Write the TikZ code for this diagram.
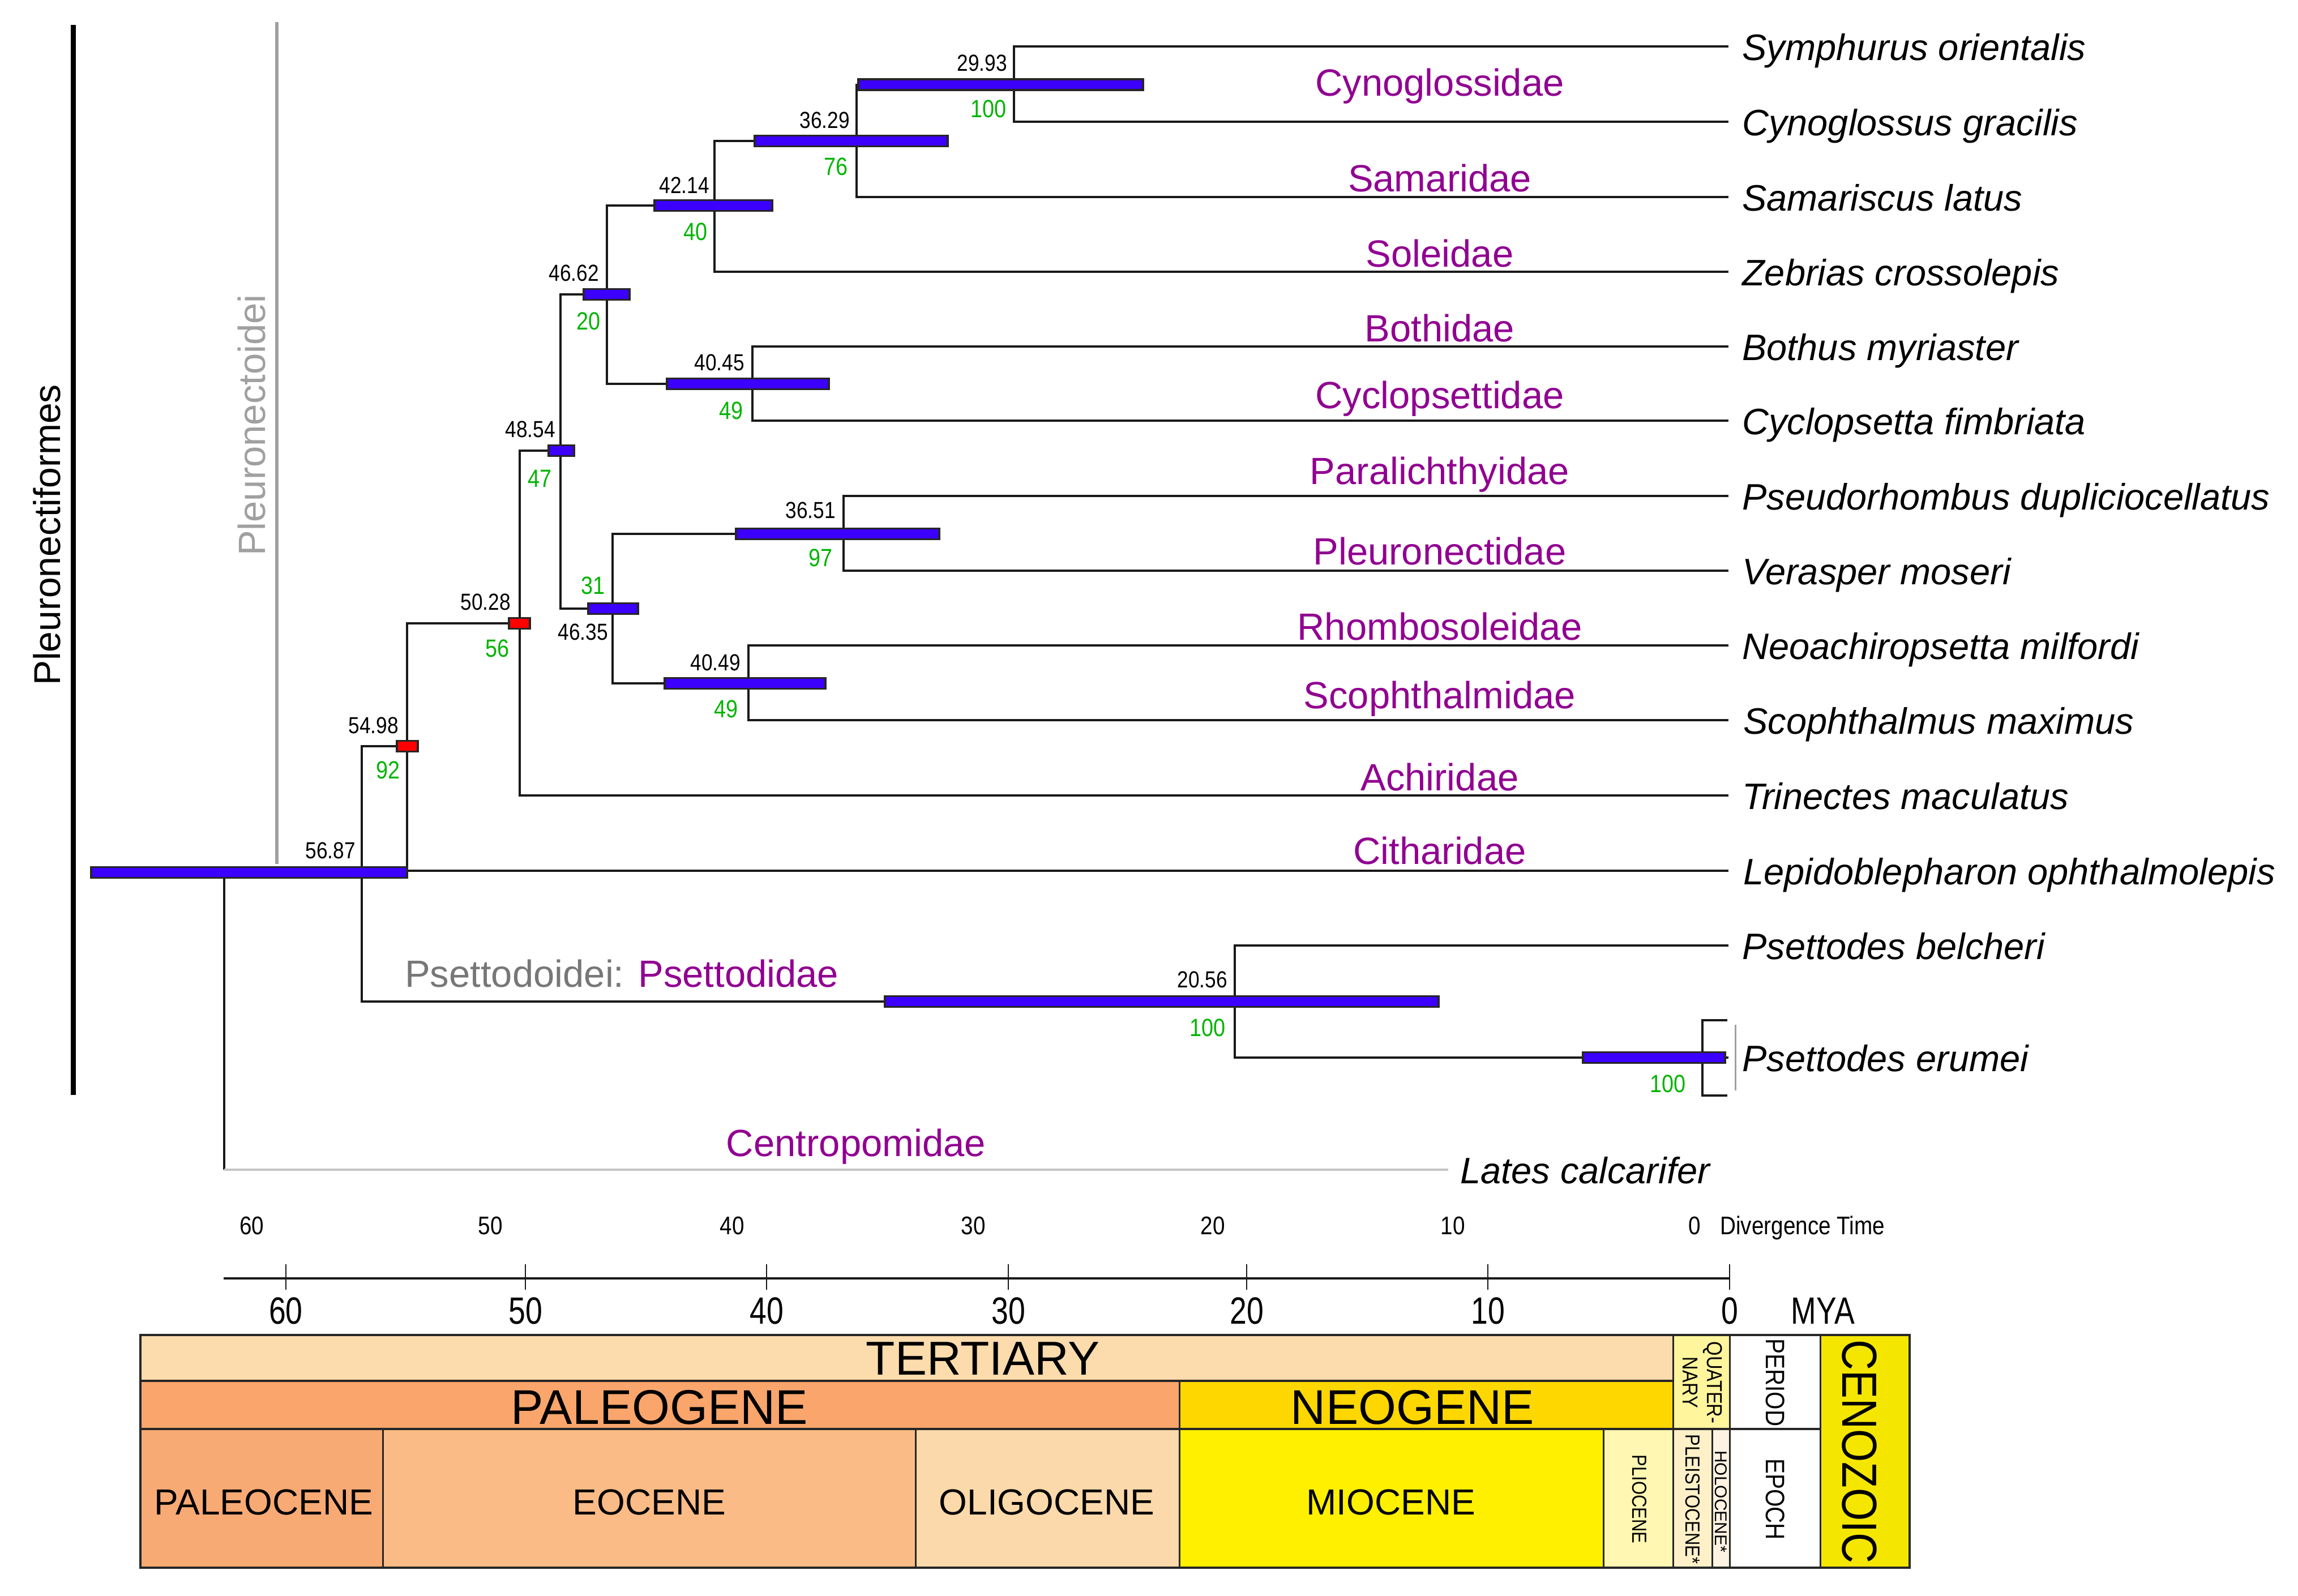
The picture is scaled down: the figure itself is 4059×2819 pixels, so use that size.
\documentclass[tikz,border=0pt]{standalone}
\usepackage{fontspec}
\setmainfont{Liberation Sans}
\newfontfamily\condA[FakeStretch=0.86]{Liberation Sans}
\newfontfamily\condB[FakeStretch=0.8]{Liberation Sans}
\newfontfamily\condC[FakeStretch=0.86]{Liberation Sans}
\newcommand\fsz[1]{\fontsize{#1}{#1}\selectfont}
\definecolor{barblue}{HTML}{3C00FF}
\definecolor{fampurple}{HTML}{910091}
\definecolor{suppgreen}{HTML}{00B400}
\definecolor{psgray}{HTML}{777777}
\definecolor{pngray}{HTML}{A0A0A0}
\definecolor{latesgray}{HTML}{C4C4C4}
\definecolor{cTert}{HTML}{FCDBAC}
\definecolor{cPaleog}{HTML}{F9A56C}
\definecolor{cPaleoc}{HTML}{F8AA74}
\definecolor{cEoc}{HTML}{FBBB86}
\definecolor{cOlig}{HTML}{FCD9AA}
\definecolor{cNeog}{HTML}{FFD700}
\definecolor{cMioc}{HTML}{FFF000}
\definecolor{cPlioc}{HTML}{FFF7B2}
\definecolor{cQuat}{HTML}{FFF59C}
\definecolor{cPleist}{HTML}{FFF0C8}
\definecolor{cHoloc}{HTML}{FEF2E2}
\definecolor{cCeno}{HTML}{F5E600}
\tikzset{
  tree/.style={line width=4pt, black!90},
  lates/.style={line width=4pt, latesgray},
  bar/.style={rectangle, draw=black!85, line width=3.5pt, fill=barblue, minimum height=19pt, inner sep=0pt},
  redbar/.style={bar, fill=red},
  agelbl/.style={anchor=base east, inner sep=0pt, font=\condA\fsz{41}},
  supp/.style={anchor=base east, inner sep=0pt, text=suppgreen, font=\condA\fsz{44}},
  fam/.style={anchor=base, inner sep=0pt, text=fampurple, font=\fsz{67}},
  sp/.style={anchor=base west, inner sep=0pt, font=\itshape\fsz{65}},
  toplbl/.style={anchor=base, inner sep=0pt, font=\condC\fsz{45}},
  botlbl/.style={anchor=base, inner sep=0pt, font=\condB\fsz{67}},
  cell/.style={draw=black!85, line width=3pt},
  bigtxt/.style={anchor=base, inner sep=0pt},
  rottxt/.style={anchor=center, inner sep=0pt, rotate=-90},
}
\begin{document}
\begin{tikzpicture}[x=1pt, y=-1pt]
\useasboundingbox (0,0) rectangle (4059,2819);
% ---------- tips ----------
\coordinate (t1) at (3053,82);
\coordinate (t2) at (3053,215);
\coordinate (t3) at (3053,348);
\coordinate (t4) at (3053,480);
\coordinate (t5) at (3053,612);
\coordinate (t6) at (3053,743);
\coordinate (t7) at (3053,876);
\coordinate (t8) at (3053,1008);
\coordinate (t9) at (3053,1140);
\coordinate (t10) at (3053,1272);
\coordinate (t11) at (3053,1405);
\coordinate (t12) at (3053,1538);
\coordinate (t13) at (3053,1670);
\coordinate (t14) at (3053,1868);
\coordinate (t15) at (2558,2066);
% ---------- internal nodes ----------
\coordinate (n2993) at (1791,149.5);
\coordinate (n3629) at (1512.5,249);
\coordinate (n4214) at (1262,363);
\coordinate (n4662) at (1072,520);
\coordinate (n4045) at (1329,678);
\coordinate (n4854) at (990,796);
\coordinate (n3651) at (1490,943);
\coordinate (n4635) at (1082,1075);
\coordinate (n4049) at (1322,1207);
\coordinate (n5028) at (918,1101);
\coordinate (n5498) at (719,1318);
\coordinate (n5687) at (638.5,1541);
\coordinate (n2056) at (2181,1769);
\coordinate (root) at (396,1541);
% ---------- group lines ----------
\coordinate (pfTop) at (129,44);
\coordinate (pfBot) at (129,1934);
\coordinate (pnTop) at (489,39);
\coordinate (pnBot) at (489,1526);
\draw[line width=9pt, black] (pfTop) -- (pfBot);
\draw[line width=6pt, pngray] (pnTop) -- (pnBot);
% ---------- branches ----------
\draw[tree] (n2993) |- (t1);
\draw[tree] (n2993) |- (t2);
\draw[tree] (n3629) |- (n2993);
\draw[tree] (n3629) |- (t3);
\draw[tree] (n4214) |- (n3629);
\draw[tree] (n4214) |- (t4);
\draw[tree] (n4662) |- (n4214);
\draw[tree] (n4662) |- (n4045);
\draw[tree] (n4045) |- (t5);
\draw[tree] (n4045) |- (t6);
\draw[tree] (n4854) |- (n4662);
\draw[tree] (n4854) |- (n4635);
\draw[tree] (n3651) |- (t7);
\draw[tree] (n3651) |- (t8);
\draw[tree] (n4635) |- (n3651);
\draw[tree] (n4635) |- (n4049);
\draw[tree] (n4049) |- (t9);
\draw[tree] (n4049) |- (t10);
\draw[tree] (n5028) |- (n4854);
\draw[tree] (n5028) |- (t11);
\draw[tree] (n5498) |- (n5028);
\draw[tree] (n5498) |- (t12);
\draw[tree] (n5687) |- (n5498);
\draw[tree] (n5687) |- (n2056);
\draw[tree] (n2056) |- (t13);
\draw[tree] (n2056) |- (t14);
\draw[tree] (root) -- (n5687);
\draw[tree] (root) -- (root |- t15);
\draw[lates] (root |- t15) -- (t15);
% erumei bracket
\coordinate (brA) at (3051,1802);
\coordinate (brB) at (3007,1802);
\coordinate (brC) at (3007,1935);
\coordinate (brD) at (3051,1935);
\draw[tree] (brA) -- (brB) -- (brC) -- (brD);
\coordinate (glA) at (3065,1810);
\coordinate (glB) at (3065,1926);
\draw[line width=3pt, pngray] (glA) -- (glB);
% ---------- bars ----------
\node[bar, minimum width=503pt] (b2993) at (1767.5,149.5) {};
\node[bar, minimum width=341pt] (b3629) at (1503.5,249) {};
\node[bar, minimum width=208pt] (b4214) at (1260,363) {};
\node[bar, minimum width=81pt] (b4662) at (1071.5,520) {};
\node[bar, minimum width=286pt] (b4045) at (1321,678) {};
\node[bar, minimum width=45pt] (b4854) at (991.5,796) {};
\node[bar, minimum width=359pt] (b3651) at (1479.5,943) {};
\node[bar, minimum width=88pt] (b4635) at (1083,1075) {};
\node[bar, minimum width=284pt] (b4049) at (1316,1207) {};
\node[redbar, minimum width=37pt] (b5028) at (917.5,1101) {};
\node[redbar, minimum width=37pt] (b5498) at (719.5,1318) {};
\node[bar, minimum width=558pt] (b5687) at (440,1541) {};
\node[bar, minimum width=978pt] (b2056) at (2052,1769) {};
\node[bar, minimum width=251pt] (bEru) at (2921.5,1868) {};
% ---------- node ages and support ----------
\node[agelbl] (a2993) at (1779,125) {29.93};
\node[supp] (s2993) at (1778,207) {100};
\node[agelbl] (a3629) at (1501,226) {36.29};
\node[supp] (s3629) at (1498,309) {76};
\node[agelbl] (a4214) at (1253,341) {42.14};
\node[supp] (s4214) at (1250,424) {40};
\node[agelbl] (a4662) at (1058,496) {46.62};
\node[supp] (s4662) at (1061,582) {20};
\node[agelbl] (a4045) at (1315,654) {40.45};
\node[supp] (s4045) at (1313,740) {49};
\node[agelbl] (a4854) at (981,772) {48.54};
\node[supp] (s4854) at (975,860) {47};
\node[agelbl] (a3651) at (1476,915) {36.51};
\node[supp] (s3651) at (1471,1000) {97};
\node[agelbl] (a5028) at (902,1077) {50.28};
\node[supp] (s5028) at (900,1160) {56};
\node[agelbl] (a4635) at (1074,1130) {46.35};
\node[supp] (s4635) at (1069,1049) {31};
\node[agelbl] (a4049) at (1308,1184) {40.49};
\node[supp] (s4049) at (1304,1267) {49};
\node[agelbl] (a5498) at (704,1295) {54.98};
\node[supp] (s5498) at (707,1375) {92};
\node[agelbl] (a5687) at (628,1516) {56.87};
\node[agelbl] (a2056) at (2168,1744) {20.56};
\node[supp] (s2056) at (2165,1830) {100};
\node[supp] (sEru) at (2978,1929) {100};
% ---------- family labels ----------
\node[fam] (f1) at (2543,169) {Cynoglossidae};
\node[fam] (f2) at (2543,338) {Samaridae};
\node[fam] (f3) at (2543,471) {Soleidae};
\node[fam] (f4) at (2543,603) {Bothidae};
\node[fam] (f5) at (2543,721) {Cyclopsettidae};
\node[fam] (f6) at (2543,855) {Paralichthyidae};
\node[fam] (f7) at (2543,997) {Pleuronectidae};
\node[fam] (f8) at (2543,1130) {Rhombosoleidae};
\node[fam] (f9) at (2543,1251) {Scophthalmidae};
\node[fam] (f10) at (2543,1396) {Achiridae};
\node[fam] (f11) at (2543,1526) {Citharidae};
\node[fam] (f12) at (1512,2042) {Centropomidae};
\node[anchor=base west, inner sep=0pt, font=\fsz{67}] (f13) at (715,1743) {\textcolor{psgray}{Psettodoidei:} \textcolor{fampurple}{Psettodidae}};
% ---------- group labels ----------
\node[anchor=base, inner sep=0pt, rotate=90, font=\fsz{66}] (gPF) at (106,945) {Pleuronectiformes};
\node[anchor=base, inner sep=0pt, rotate=90, font=\fsz{67}, text=pngray] (gPN) at (468,751) {Pleuronectoidei};
% ---------- species ----------
\node[sp] (l1) at (3077,106) {Symphurus orientalis};
\node[sp] (l2) at (3077,239) {Cynoglossus gracilis};
\node[sp] (l3) at (3077,372) {Samariscus latus};
\node[sp] (l4) at (3077,504) {Zebrias crossolepis};
\node[sp] (l5) at (3077,636) {Bothus myriaster};
\node[sp] (l6) at (3077,767) {Cyclopsetta fimbriata};
\node[sp] (l7) at (3077,900) {Pseudorhombus dupliciocellatus};
\node[sp] (l8) at (3077,1032) {Verasper moseri};
\node[sp] (l9) at (3077,1164) {Neoachiropsetta milfordi};
\node[sp] (l10) at (3079,1296) {Scophthalmus maximus};
\node[sp] (l11) at (3077,1429) {Trinectes maculatus};
\node[sp] (l12) at (3079,1562) {Lepidoblepharon ophthalmolepis};
\node[sp] (l13) at (3077,1694) {Psettodes belcheri};
\node[sp] (l14) at (3077,1892) {Psettodes erumei};
\node[sp] (l15) at (2579,2090) {Lates calcarifer};
% ---------- divergence time labels ----------
\node[toplbl] (d60) at (445,2180) {60};
\node[toplbl] (d50) at (866,2180) {50};
\node[toplbl] (d40) at (1293,2180) {40};
\node[toplbl] (d30) at (1719,2180) {30};
\node[toplbl] (d20) at (2142,2180) {20};
\node[toplbl] (d10) at (2566,2180) {10};
\node[toplbl] (d0) at (2993,2180) {0};
\node[toplbl, anchor=base west] (dt) at (3038,2180) {Divergence Time};
% ---------- axis ----------
\coordinate (axL) at (395,2258);
\coordinate (axR) at (3056,2258);
\draw[line width=4.5pt, black!90] (axL) -- (axR);
\foreach \tx/\tl in {505/60, 928/50, 1354/40, 1781/30, 2202/20, 2628/10, 3055/0}{
  \coordinate (tk\tl) at (\tx,2233);
  \draw[line width=2.5pt, black!90] (tk\tl) -- ++(0,45);
  \node[botlbl] (m\tl) at (\tx,2338) {\tl};
}
\node[botlbl] (mya) at (3220,2338) {MYA};
% ---------- geologic table ----------
\fill[cTert] (248,2358) rectangle (2955,2439);
\fill[cPaleog] (248,2439) rectangle (2083,2524);
\fill[cNeog] (2083,2439) rectangle (2955,2524);
\fill[cPaleoc] (248,2524) rectangle (676,2769);
\fill[cEoc] (676,2524) rectangle (1617,2769);
\fill[cOlig] (1617,2524) rectangle (2083,2769);
\fill[cMioc] (2083,2524) rectangle (2832,2769);
\fill[cPlioc] (2832,2524) rectangle (2955,2769);
\fill[cPleist] (2955,2524) rectangle (3024,2769);
\fill[cHoloc] (3024,2524) rectangle (3055,2769);
\fill[cQuat] (2955,2358) rectangle (3055,2524);
\fill[white] (3055,2358) rectangle (3215,2769);
\fill[cCeno] (3215,2358) rectangle (3373,2769);
\draw[cell, line width=4.5pt] (248,2439) -- (2955,2439);
\draw[cell, line width=4.5pt] (248,2524) -- (3215,2524);
\draw[cell] (676,2524) -- (676,2769);
\draw[cell] (1617,2524) -- (1617,2769);
\draw[cell] (2083,2439) -- (2083,2769);
\draw[cell] (2832,2524) -- (2832,2769);
\draw[cell] (2955,2358) -- (2955,2769);
\draw[cell] (3024,2524) -- (3024,2769);
\draw[cell] (3055,2358) -- (3055,2769);
\draw[cell] (3215,2358) -- (3215,2769);
\draw[cell, line width=4.5pt] (248,2358) rectangle (3373,2769);
\node[bigtxt, font=\fsz{84}] (tTert) at (1736,2428) {TERTIARY};
\node[bigtxt, font=\fsz{86}] (tPaleog) at (1165,2515) {PALEOGENE};
\node[bigtxt, font=\fsz{86}] (tNeog) at (2495,2515) {NEOGENE};
\node[bigtxt, font=\fsz{64}] (tPaleoc) at (466,2675) {PALEOCENE};
\node[bigtxt, font=\fsz{64}] (tEoc) at (1147,2675) {EOCENE};
\node[bigtxt, font=\fsz{64}] (tOlig) at (1849,2675) {OLIGOCENE};
\node[bigtxt, font=\fsz{64}] (tMioc) at (2457,2675) {MIOCENE};
\node[rottxt, font=\condA\fsz{36}] (tPlioc) at (2896,2648) {PLIOCENE};
\node[rottxt, font=\condA\fontsize{38}{43}\selectfont, align=center] (tQuat) at (3007,2442) {QUATER-\\NARY};
\node[rottxt, font=\condA\fsz{36}] (tPleist) at (2990,2648) {PLEISTOCENE*};
\node[rottxt, font=\fsz{30}] (tHoloc) at (3040,2652) {HOLOCENE*};
\node[rottxt, font=\condA\fsz{47}] (tPeriod) at (3136,2442) {PERIOD};
\node[rottxt, font=\condA\fsz{47}] (tEpoch) at (3136,2648) {EPOCH};
\node[rottxt, font=\condA\fsz{87}] (tCeno) at (3284,2564) {CENOZOIC};
\end{tikzpicture}
\end{document}
